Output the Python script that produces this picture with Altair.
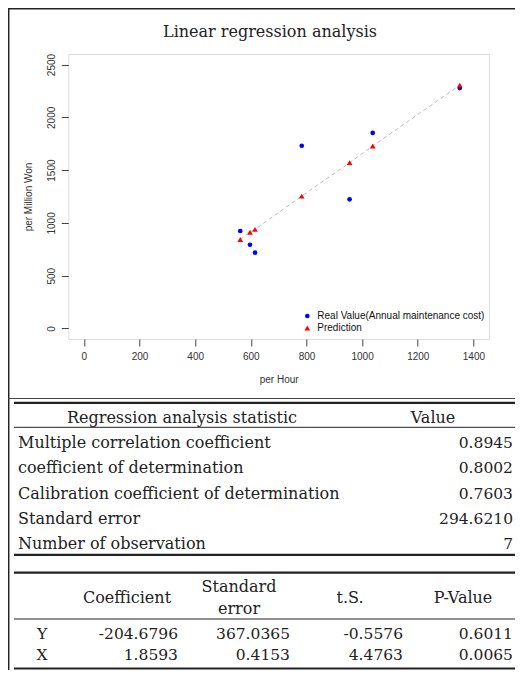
import altair as alt
import pandas as pd

# ---------------- data ----------------
hours = [562, 597, 615, 783, 955, 1038, 1351]
real_cost = [923, 793, 718, 1731, 1223, 1852, 2277]
pred_cost = [843, 912, 939, 1254, 1571, 1728, 2305]
series_names = ["Real Value(Annual maintenance cost)", "Prediction"]

x_ticks = [0, 200, 400, 600, 800, 1000, 1200, 1400]
y_ticks = [0, 500, 1000, 1500, 2000, 2500]

title_text = "Linear regression analysis"

stat_header = ["Regression analysis statistic", "Value"]
stat_labels = ["Multiple correlation coefficient", "coefficient of determination",
               "Calibration coefficient of determination", "Standard error",
               "Number of observation"]
stat_values = ["0.8945", "0.8002", "0.7603", "294.6210", "7"]

coef_header = ["Coefficient", "Standard\nerror", "t.S.", "P-Value"]
coef_rows = ["Y", "X"]
coef_vals = ["-204.6796", "1.8593"]
coef_se = ["367.0365", "0.4153"]
coef_t = ["-0.5576", "4.4763"]
coef_p = ["0.6011", "0.0065"]

# ---------------- layout constants (pixels, relative to plot area) ----------------
W, H = 420.7, 285
PAD = {"left": 60.3, "top": 46, "right": 26, "bottom": 331}
SERIF = "DejaVu Serif"
SANS = "Liberation Sans"
INK = "#222222"

dummy = pd.DataFrame({"d": [0]})

# ---------------- scatter plot ----------------
df_pts = pd.DataFrame({
    "hour": hours + hours,
    "value": real_cost + pred_cost,
    "series": [series_names[0]] * len(hours) + [series_names[1]] * len(hours),
})
df_line = pd.DataFrame({"hour": hours, "value": pred_cost})

x_axis = alt.Axis(values=x_ticks, format="d", grid=False, domain=False, tickSize=7, tickColor="#444",
                  labelFont=SANS, labelFontSize=10, labelColor="#333", labelPadding=5.5,
                  title="per Hour", titleFont=SANS, titleFontSize=10, titleFontWeight="normal",
                  titleColor="#333", titleY=40, titleBaseline="middle")
y_axis = alt.Axis(values=y_ticks, format="d", grid=False, domain=False, tickSize=7, tickColor="#444",
                  labelFont=SANS, labelFontSize=10, labelColor="#333", labelPadding=5,
                  labelAngle=270, labelAlign="center", labelBaseline="bottom",
                  title="per Million Won", titleFont=SANS, titleFontSize=10,
                  titleFontWeight="normal", titleColor="#333", titleX=-35, titleY=142.5,
                  titleAngle=270, titleAlign="center", titleBaseline="bottom")
x_scale = alt.Scale(domain=[-56, 1456], nice=False, zero=False)
y_scale = alt.Scale(domain=[-100, 2600], nice=False, zero=False)

legend = alt.Legend(orient="none", legendX=234, legendY=257, title=None,
                    labelFont=SANS, labelFontSize=10, labelColor="#111", labelLimit=0,
                    symbolSize=20, padding=0, labelOffset=5, rowPadding=2)

line = alt.Chart(df_line).mark_line(color="#bdbdbd", strokeWidth=1, strokeDash=[4, 3]).encode(
    x=alt.X("hour:Q", scale=x_scale, axis=x_axis),
    y=alt.Y("value:Q", scale=y_scale, axis=y_axis),
)
points = alt.Chart(df_pts).mark_point(filled=True, opacity=1).encode(
    x=alt.X("hour:Q", scale=x_scale, axis=x_axis),
    y=alt.Y("value:Q", scale=y_scale, axis=y_axis),
    color=alt.Color("series:N", scale=alt.Scale(domain=series_names, range=["#0000ff", "#ff0000"]),
                    legend=legend),
    shape=alt.Shape("series:N", scale=alt.Scale(domain=series_names, range=["circle", "triangle-up"]),
                    legend=legend),
    size=alt.Size("series:N", scale=alt.Scale(domain=series_names, range=[22, 32]), legend=None),
)
scatter = alt.layer(line, points)

# ---------------- frame & title ----------------
def hline(y, x1, x2, width=1.0, color=INK):
    return alt.Chart(dummy).mark_rule(color=color, strokeWidth=width).encode(
        x=alt.value(x1), x2=alt.value(x2), y=alt.value(y))

frame_left = alt.Chart(dummy).mark_rule(color=INK, strokeWidth=1.5).encode(
    x=alt.value(-59.6), y=alt.value(-46), y2=alt.value(616))
frame_top = hline(-45.3, -60.3, 446.7, 1.5)
frame_sep = hline(344.5, -60.3, 446.7, 1.0, "#444")

title = alt.Chart(dummy).mark_text(text=title_text, font=SERIF, fontSize=16, color=INK,
                                   align="center", baseline="middle").encode(
    x=alt.value(201.7), y=alt.value(-22.3))

# ---------------- table 1 ----------------
df_t1 = pd.DataFrame({"row": list(range(1, len(stat_labels) + 1)),
                      "label": stat_labels, "value": stat_values})
t1_y = alt.Y("row:Q", scale=alt.Scale(domain=[1, 5], range=[389.0, 490.0]), axis=None)
t1_labels = alt.Chart(df_t1).mark_text(font=SERIF, fontSize=16, color=INK, align="left",
                                       baseline="middle").encode(
    x=alt.value(-50.3), y=t1_y, text="label:N")
t1_values = alt.Chart(df_t1).mark_text(font=SERIF, fontSize=15.5, color=INK, align="right",
                                       baseline="middle").encode(
    x=alt.value(444.7), y=t1_y, text="value:N")
t1_h1 = alt.Chart(dummy).mark_text(text=stat_header[0], font=SERIF, fontSize=16, color=INK,
                                   align="center", baseline="middle").encode(
    x=alt.value(113.7), y=alt.value(363.5))
t1_h2 = alt.Chart(dummy).mark_text(text=stat_header[1], font=SERIF, fontSize=16, color=INK,
                                   align="center", baseline="middle").encode(
    x=alt.value(364.7), y=alt.value(363.5))
t1_top = hline(348.9, -54.3, 446.7, 2.2)
t1_mid = hline(373.3, -54.3, 446.7, 1.0)
t1_bot = hline(500.8, -54.3, 446.7, 2.2)
table1 = alt.layer(t1_labels, t1_values)

# ---------------- table 2 ----------------
df_t2 = pd.DataFrame({"row": [1, 2], "name": coef_rows, "coef": coef_vals,
                      "se": coef_se, "t": coef_t, "p": coef_p})
t2_y = alt.Y("row:Q", scale=alt.Scale(domain=[1, 2], range=[580.0, 600.8]), axis=None)

def t2_col(field, x, align):
    return alt.Chart(df_t2).mark_text(font=SERIF, fontSize=15.5, color=INK, align=align,
                                      baseline="middle").encode(
        x=alt.value(x), y=t2_y, text=f"{field}:N")

t2_names = t2_col("name", -26.3, "center")
t2_coef = t2_col("coef", 109.7, "right")
t2_se = t2_col("se", 221.7, "right")
t2_t = t2_col("t", 334.7, "right")
t2_p = t2_col("p", 444.7, "right")
table2 = alt.layer(t2_names, t2_coef, t2_se, t2_t, t2_p)

header_x = [58.7, 170.7, 281.7, 394.7]
header_y = [544.0, 532.5, 544.0, 544.0]
t2_heads = [
    alt.Chart(dummy).mark_text(text=h, font=SERIF, fontSize=16, color=INK, align="center",
                               baseline="middle", lineBreak="\n", lineHeight=22.6).encode(
        x=alt.value(hx), y=alt.value(hy))
    for h, hx, hy in zip(coef_header, header_x, header_y)
]
t2_top = hline(518.6, -54.3, 446.7, 2.2)
t2_mid = hline(565.0, -54.3, 446.7, 1.0)
t2_bot = hline(614.5, -54.3, 446.7, 2.2)

chart = alt.layer(
    frame_left, frame_top, frame_sep, title,
    scatter,
    t1_top, t1_mid, t1_bot, t1_h1, t1_h2, table1,
    t2_top, t2_mid, t2_bot, *t2_heads, table2,
).resolve_scale(
    x="independent", y="independent"
).properties(
    width=W, height=H, padding=PAD, autosize="none", background="white"
).configure_view(
    stroke="#444", strokeWidth=1
).configure(font=SANS)

chart.save("out.html", embed_options={"renderer": "svg", "actions": False})
